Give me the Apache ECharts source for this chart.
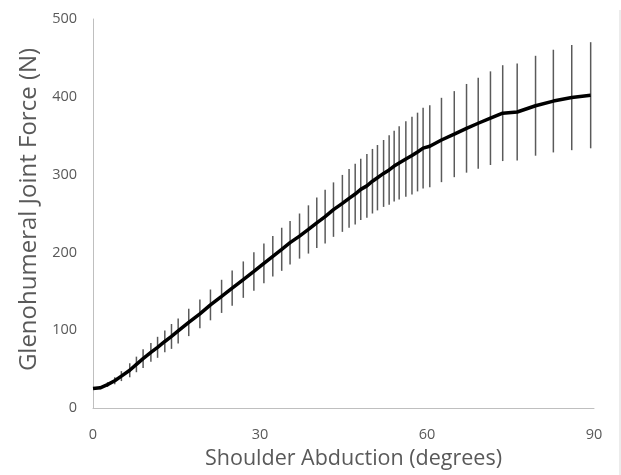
<!DOCTYPE html>
<html>
<head>
<meta charset="utf-8">
<script src="https://cdn.jsdelivr.net/npm/echarts@6/dist/echarts.min.js"></script>
<style>
  html, body { margin: 0; padding: 0; background: #fff; }
  #chart { width: 621px; height: 475px; }
</style>
</head>
<body>
<div id="chart"></div>
<script>
// shoulder abduction angle (degrees)
const angle = [0, 1.3, 2.6, 3.9, 5.1, 6.6, 7.8, 9.0, 10.4, 11.6, 12.9, 14.1, 15.3,
  17.2, 19.2, 21.1, 23.1, 25.0, 27.0, 28.9, 30.7, 32.3, 33.9, 35.4, 37.1, 38.7,
  40.2, 41.7, 43.2, 44.8, 46.0, 47.1, 48.1, 49.2, 50.2, 51.1, 52.2, 53.2, 54.1,
  55.0, 56.2, 57.3, 58.3, 59.3, 60.5, 62.6, 64.9, 67.1, 69.2, 71.4, 73.6, 76.2,
  79.5, 82.7, 86.0, 89.4];
// mean glenohumeral joint force (N)
const force = [25, 26, 30, 35, 41, 48.5, 56, 63.5, 71.5, 78, 85.5, 92, 99,
  110, 121, 132.5, 143.5, 154, 165, 175.5, 186, 195, 204, 212.5, 221, 229.5,
  238, 246, 255, 263, 269.5, 275, 281, 285.5, 291.5, 296, 301.5, 306, 311,
  315, 320, 324.5, 329, 334, 336.5, 344.5, 352, 359.5, 366, 372.5, 379, 380.5,
  388.5, 394.5, 399, 402];
// standard deviation (N)
const sd = [0, 2, 3, 4.5, 6.4, 9, 10, 12, 12, 13.5, 14, 16, 16,
  17.6, 18.5, 19.8, 21.3, 22.7, 23.4, 24.7, 25.5, 26, 27.7, 28, 29, 31,
  32.5, 34.4, 35, 36.6, 37.8, 39, 39.3, 41, 41.5, 42, 43, 44.6, 45.5,
  47, 48.5, 50, 50.6, 52, 52.7, 54.2, 55.3, 57, 58.4, 60.2, 61.6, 62.3,
  64.2, 66, 67.6, 68.2];

const xTicks = [0, 30, 60, 90];
const yTicks = [0, 100, 200, 300, 400, 500];

const labelColor = '#595959';
const axisColor = '#bfbfbf';
const font = 'Open Sans';

const chart = echarts.init(document.getElementById('chart'));

chart.setOption({
  animation: false,
  backgroundColor: '#fff',
  grid: { left: 93, right: 27, top: 19, bottom: 64 },
  xAxis: {
    type: 'value',
    min: xTicks[0],
    max: xTicks[xTicks.length - 1],
    interval: 30,
    name: 'Shoulder Abduction (degrees)',
    nameLocation: 'middle',
    nameGap: 40,
    nameTextStyle: { color: labelColor, fontSize: 21.5, fontFamily: font, padding: [0, 0, 0, 20] },
    axisLine: { show: true, lineStyle: { color: axisColor, width: 1 } },
    axisTick: { show: false },
    splitLine: { show: false },
    axisLabel: { color: labelColor, fontSize: 14.5, fontFamily: font, margin: 19 }
  },
  yAxis: {
    type: 'value',
    min: yTicks[0],
    max: yTicks[yTicks.length - 1],
    interval: 100,
    name: 'Glenohumeral Joint Force (N)',
    nameLocation: 'middle',
    nameGap: 50,
    nameTextStyle: { color: labelColor, fontSize: 24, fontFamily: font, padding: [0, 0, 0, 8] },
    axisLine: { show: true, lineStyle: { color: axisColor, width: 1 } },
    axisTick: { show: false },
    splitLine: { show: false },
    axisLabel: { color: labelColor, fontSize: 14.5, fontFamily: font, margin: 16 }
  },
  graphic: [{
    type: 'line',
    shape: { x1: 620, y1: 10, x2: 620, y2: 475 },
    style: { stroke: '#d9d9d9', lineWidth: 1 }
  }],
  series: [
    {
      type: 'custom',
      name: 'SD',
      z: 1,
      encode: { x: 0, y: [1, 2] },
      data: angle.map((a, i) => [a, force[i] - sd[i], force[i] + sd[i]]),
      renderItem: (params, api) => {
        const lo = api.coord([api.value(0), api.value(1)]);
        const hi = api.coord([api.value(0), api.value(2)]);
        return {
          type: 'line',
          shape: { x1: lo[0], y1: lo[1], x2: hi[0], y2: hi[1] },
          style: { stroke: '#5a5a5a', lineWidth: 1.5 }
        };
      }
    },
    {
      type: 'line',
      name: 'Force',
      z: 3,
      data: angle.map((a, i) => [a, force[i]]),
      showSymbol: false,
      symbol: 'none',
      lineStyle: { color: '#000', width: 3.5 }
    }
  ]
});
</script>
</body>
</html>
